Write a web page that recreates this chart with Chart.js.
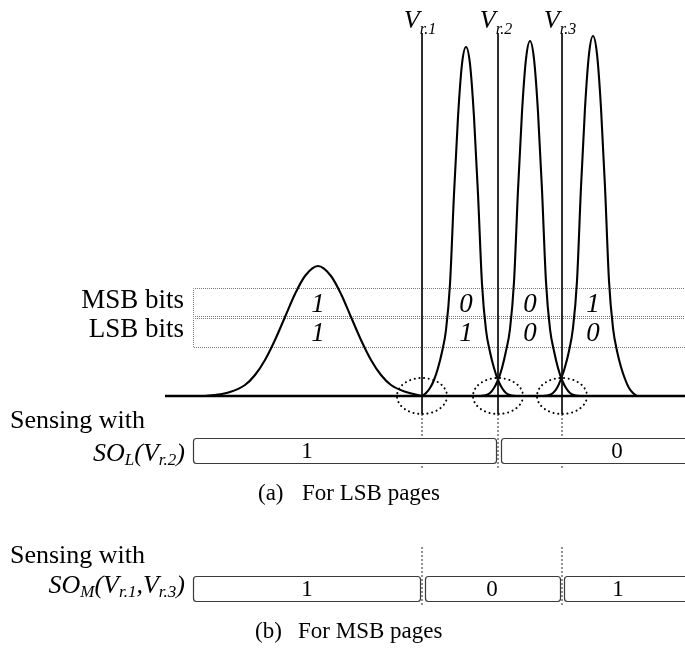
<!DOCTYPE html>
<html>
<head>
<meta charset="utf-8">
<title>MLC threshold-voltage distributions and page sensing</title>
<script src="https://cdn.jsdelivr.net/npm/chart.js@4/dist/chart.umd.min.js"></script>
<style>
  html, body { margin: 0; padding: 0; background: #ffffff; }
  #wrap { width: 685px; height: 651px; }
</style>
</head>
<body>
<div id="wrap"><canvas id="c" width="685" height="651"></canvas></div>
<script>
// ---- Threshold-voltage distributions of the four MLC states (Vth, cell count in a.u.) ----
const erasedVth   = [203, 215, 230, 245, 255, 265, 275, 285, 295, 305, 318, 331, 341, 351, 361, 371, 381, 391, 406, 422];
const erasedCount = [0, 1, 4, 11, 21, 36, 56, 79, 102, 120, 130, 120, 102, 79, 56, 36, 21, 11, 4, 0];

const state1Vth   = [422, 426, 430, 434, 438, 442, 446, 450, 454, 458, 462, 466, 470, 474, 478, 482, 486, 490, 494, 498, 502, 506, 510, 516];
const state1Count = [0, 3, 8, 16, 28, 44, 66, 112, 202, 279, 332, 349, 332, 279, 202, 112, 66, 44, 28, 16, 8, 3, 1, 0];

const state2Vth   = [480, 486, 490, 494, 498, 502, 506, 510, 514, 518, 522, 526, 530, 534, 538, 542, 546, 550, 554, 558, 562, 566, 570, 574, 580];
const state2Count = [0, 1, 3, 8, 16, 28, 45, 67, 114, 206, 284, 337, 355, 337, 284, 206, 114, 67, 45, 28, 16, 8, 3, 1, 0];

const state3Vth   = [543, 549, 553, 557, 561, 565, 569, 573, 577, 581, 585, 589, 593, 597, 601, 605, 609, 613, 617, 621, 625, 629, 633, 637];
const state3Count = [0, 1, 3, 8, 17, 29, 45, 68, 115, 209, 288, 342, 360, 342, 288, 209, 115, 68, 45, 29, 17, 8, 3, 0];

// State centres, where the bit values of each state are written
const stateVth = [318, 466, 530, 593];
const msbBits  = ['1', '0', '0', '1'];
const lsbBits  = ['1', '1', '0', '0'];

// Read reference voltages
const readVth    = [422, 498, 562];
const readLabels = ['r.1', 'r.2', 'r.3'];

// Sensing outputs
const lsbSenseOut = ['1', '0'];        // SO_L(V_r.2)
const msbSenseOut = ['1', '0', '1'];   // SO_M(V_r.1, V_r.3)

// Axis extent (a.u.)
const vthAxis   = [0, 685];
const countAxis = [-255, 396];

// ---------------------------------------------------------------------------
const SERIF = '"Liberation Serif", "Times New Roman", serif';
const pts = (xs, ys) => xs.map((x, i) => ({ x, y: ys[i] }));

const curveStyle = {
  showLine: true, pointRadius: 0, pointHoverRadius: 0,
  borderColor: '#000', borderWidth: 2.1, fill: false,
  cubicInterpolationMode: 'monotone', tension: 0.4
};

const readLineSets = [];
readVth.forEach(v => {
  // solid marker from the label down through the axis
  readLineSets.push({ data: [{ x: v, y: 363 }, { x: v, y: -18 }], showLine: true, pointRadius: 0,
    borderColor: '#111', borderWidth: 1, tension: 0 });
  // dashed guide down to the LSB sensing row
  readLineSets.push({ data: [{ x: v, y: -18 }, { x: v, y: -74 }], showLine: true, pointRadius: 0,
    borderColor: '#222', borderWidth: 1, borderDash: [2, 2], tension: 0 });
});
// dashed guides for the MSB sensing row (V_r.1 and V_r.3)
[readVth[0], readVth[2]].forEach(v => {
  readLineSets.push({ data: [{ x: v, y: -151 }, { x: v, y: -209 }], showLine: true, pointRadius: 0,
    borderColor: '#222', borderWidth: 1, borderDash: [2, 2], tension: 0 });
});

function richText(ctx, parts, x, y, align) {
  let total = 0;
  parts.forEach(p => {
    ctx.font = (p.italic ? 'italic ' : '') + p.size + 'px ' + SERIF;
    p.w = ctx.measureText(p.t).width;
    total += p.w;
  });
  let cx = align === 'right' ? x - total : align === 'center' ? x - total / 2 : x;
  ctx.textAlign = 'left';
  ctx.textBaseline = 'alphabetic';
  parts.forEach(p => {
    ctx.font = (p.italic ? 'italic ' : '') + p.size + 'px ' + SERIF;
    ctx.fillText(p.t, cx, y + (p.dy || 0));
    cx += p.w;
  });
}

function roundBox(ctx, x0, y0, x1, y1, r) {
  ctx.beginPath();
  ctx.moveTo(x0 + r, y0);
  ctx.lineTo(x1 - r, y0);
  ctx.quadraticCurveTo(x1, y0, x1, y0 + r);
  ctx.lineTo(x1, y1 - r);
  ctx.quadraticCurveTo(x1, y1, x1 - r, y1);
  ctx.lineTo(x0 + r, y1);
  ctx.quadraticCurveTo(x0, y1, x0, y1 - r);
  ctx.lineTo(x0, y0 + r);
  ctx.quadraticCurveTo(x0, y0, x0 + r, y0);
  ctx.closePath();
  ctx.fill();
  ctx.stroke();
}

const diagram = {
  id: 'diagram',
  beforeDatasetsDraw(chart) {
    const { ctx } = chart;
    const X = v => chart.scales.x.getPixelForValue(v);
    const Y = v => chart.scales.y.getPixelForValue(v);
    ctx.save();
    // dotted MSB / LSB bit rows
    ctx.strokeStyle = '#7a7a7a';
    ctx.lineWidth = 1;
    ctx.setLineDash([1, 1]);
    const left = Math.round(X(193)) + 0.5, right = X(700);
    [[107.7, 80.3], [78.3, 49.3]].forEach(([t, b]) => {
      const yt = Math.round(Y(t)) + 0.5, yb = Math.round(Y(b)) + 0.5;
      ctx.beginPath();
      ctx.moveTo(right, yt); ctx.lineTo(left, yt); ctx.lineTo(left, yb); ctx.lineTo(right, yb);
      ctx.stroke();
    });
    ctx.restore();
  },
  afterDatasetsDraw(chart) {
    const { ctx } = chart;
    const X = v => chart.scales.x.getPixelForValue(v);
    const Y = v => chart.scales.y.getPixelForValue(v);
    ctx.save();
    ctx.fillStyle = '#000';

    // row titles
    ctx.font = '27px ' + SERIF;
    ctx.textAlign = 'right';
    ctx.textBaseline = 'alphabetic';
    ctx.fillText('MSB bits', X(184), Y(88));
    ctx.fillText('LSB bits', X(184), Y(59));

    // bit values of each state
    ctx.font = 'italic 27px ' + SERIF;
    ctx.textAlign = 'center';
    stateVth.forEach((v, i) => {
      ctx.fillText(msbBits[i], X(v), Y(84));
      ctx.fillText(lsbBits[i], X(v), Y(55.5));
    });

    // read-voltage labels
    readVth.forEach((v, i) => {
      richText(ctx, [
        { t: 'V', size: 26, italic: true },
        { t: readLabels[i], size: 16, italic: true, dy: 6 }
      ], X(v) - 2, Y(368), 'center');
    });

    // dotted circles around each read point
    ctx.strokeStyle = '#000';
    ctx.lineWidth = 2;
    ctx.lineCap = 'round';
    ctx.setLineDash([0.1, 4.6]);
    readVth.forEach(v => {
      const cx = X(v), cy = Y(0);
      const rx = X(v + 25) - cx, ry = Y(-18) - cy;
      ctx.beginPath();
      ctx.ellipse(cx, cy, rx, ry, 0, 0, Math.PI * 2);
      ctx.stroke();
    });
    ctx.setLineDash([]);
    ctx.lineCap = 'butt';

    // sensing rows
    const rowLabel = (y) => {
      ctx.font = '26px ' + SERIF;
      ctx.textAlign = 'left';
      ctx.fillStyle = '#000';
      ctx.fillText('Sensing with', X(10), Y(y));
    };
    const boxes = (segs, top, bottom, labels, labelX) => {
      ctx.strokeStyle = '#3a3a3a';
      ctx.lineWidth = 1.2;
      segs.forEach(([a, b]) => {
        ctx.fillStyle = '#fff';
        roundBox(ctx, X(a) + 0.5, Y(top) + 0.5, X(b) + 0.5, Y(bottom) + 0.5, 3);
      });
      ctx.fillStyle = '#000';
      ctx.font = '23px ' + SERIF;
      ctx.textAlign = 'center';
      labels.forEach((t, i) => ctx.fillText(t, X(labelX[i]), Y(top - 20)));
    };

    // (a) LSB page: one read at V_r.2
    rowLabel(-32);
    richText(ctx, [
      { t: 'SO', size: 26, italic: true },
      { t: 'L', size: 17, italic: true, dy: 4 },
      { t: '(V', size: 26, italic: true },
      { t: 'r.2', size: 17, italic: true, dy: 4 },
      { t: ')', size: 26, italic: true }
    ], X(185), Y(-65), 'right');
    boxes([[193, readVth[1] - 2], [readVth[1] + 3, 700]], -42, -67, lsbSenseOut, [307, 617]);

    ctx.fillStyle = '#000';
    ctx.font = '23px ' + SERIF;
    ctx.textAlign = 'left';
    ctx.fillText('(a)', X(258), Y(-104));
    ctx.fillText('For LSB pages', X(302), Y(-104));

    // (b) MSB page: reads at V_r.1 and V_r.3
    rowLabel(-167);
    richText(ctx, [
      { t: 'SO', size: 26, italic: true },
      { t: 'M', size: 17, italic: true, dy: 4 },
      { t: '(V', size: 26, italic: true },
      { t: 'r.1', size: 17, italic: true, dy: 4 },
      { t: ',V', size: 26, italic: true },
      { t: 'r.3', size: 17, italic: true, dy: 4 },
      { t: ')', size: 26, italic: true }
    ], X(185), Y(-197), 'right');
    boxes([[193, readVth[0] - 2], [readVth[0] + 3, readVth[2] - 2], [readVth[2] + 2, 700]],
      -180, -205, msbSenseOut, [307, 492, 618]);

    ctx.fillStyle = '#000';
    ctx.font = '23px ' + SERIF;
    ctx.textAlign = 'left';
    ctx.fillText('(b)', X(255), Y(-242));
    ctx.fillText('For MSB pages', X(298), Y(-242));

    ctx.restore();
  }
};

new Chart(document.getElementById('c'), {
  type: 'scatter',
  data: {
    datasets: [
      { data: [{ x: 165, y: 0 }, { x: 700, y: 0 }], showLine: true, pointRadius: 0,
        borderColor: '#000', borderWidth: 2.4, tension: 0 },
      ...readLineSets,
      { ...curveStyle, data: pts(erasedVth, erasedCount) },
      { ...curveStyle, data: pts(state1Vth, state1Count) },
      { ...curveStyle, data: pts(state2Vth, state2Count) },
      { ...curveStyle, data: pts(state3Vth, state3Count) }
    ]
  },
  options: {
    responsive: false,
    devicePixelRatio: 1,
    animation: false,
    layout: { padding: 0 },
    plugins: { legend: { display: false }, tooltip: { enabled: false } },
    events: [],
    scales: {
      x: { type: 'linear', display: false, min: vthAxis[0], max: vthAxis[1] },
      y: { type: 'linear', display: false, min: countAxis[0], max: countAxis[1] }
    }
  },
  plugins: [diagram]
});
</script>
</body>
</html>
